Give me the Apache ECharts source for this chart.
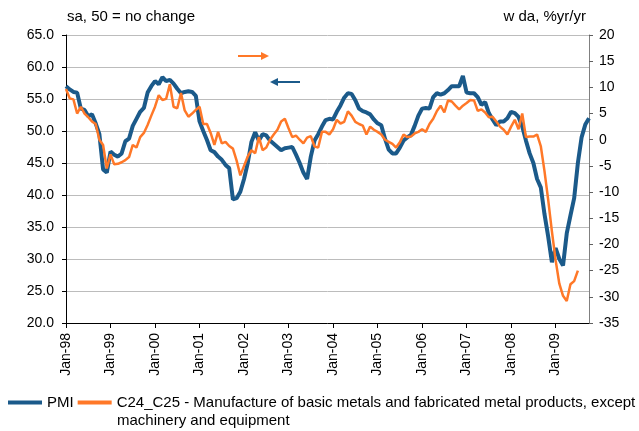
<!DOCTYPE html>
<html>
<head>
<meta charset="utf-8">
<script src="https://cdn.jsdelivr.net/npm/echarts@6/dist/echarts.min.js"></script>
<style>
html,body{margin:0;padding:0;background:#fff;}
#c{width:639px;height:431px;}
</style>
</head>
<body>
<div id="c"></div>
<script>
// Categories: monthly, Jan-98 .. Oct-09
const monthNames = ['Jan','Feb','Mar','Apr','May','Jun','Jul','Aug','Sep','Oct','Nov','Dec'];
const startYear = 1998, monthCount = 142;
const categories = [];
for (let i = 0; i < monthCount; i++) {
  const y = startYear + Math.floor(i / 12);
  categories.push(monthNames[i % 12] + '-' + String(y % 100).padStart(2, '0'));
}

// PMI (left axis, sa, 50 = no change)
const pmi = [
  57.0,56.5,56.1,56.0,53.5,53.3,52.3,52.6,51.2,49.5,44.0,43.5,
  46.8,46.3,46.0,46.5,48.4,48.8,50.8,51.9,53.0,53.6,56.0,57.0,
  57.8,57.3,58.4,57.8,58.0,57.4,56.6,55.9,56.1,56.2,56.1,55.5,
  51.5,50.0,48.6,47.0,46.7,46.0,45.5,44.7,44.2,39.3,39.5,40.5,
  42.5,45.0,48.3,49.8,48.5,49.5,49.3,48.5,48.0,47.5,47.0,47.3,
  47.4,47.5,46.3,45.0,43.5,42.5,46.0,48.5,49.5,50.7,51.7,51.9,
  51.8,53.0,54.0,55.2,55.9,55.8,54.8,53.5,53.1,52.9,52.6,51.8,
  51.2,50.9,48.8,47.1,46.5,46.5,47.4,48.5,49.0,49.4,50.8,52.4,
  53.5,53.6,53.5,55.3,55.9,55.7,55.9,56.4,57.0,57.0,57.0,58.6,
  56.0,55.9,55.9,55.3,54.1,54.5,52.8,51.8,50.9,51.5,51.5,52.0,
  53.0,52.8,52.2,50.7,48.5,46.5,45.0,42.5,41.2,37.0,33.5,29.5,
  31.7,30.0,29.0,34.0,36.8,39.5,45.0,49.0,51.0,52.0
];

// C24_C25 (right axis, wda, %yr/yr)
const c24c25 = [
  9.7,7.9,7.7,5.0,6.3,5.0,4.3,3.5,3.0,0.0,-1.0,-5.5,
  -2.8,-4.7,-4.6,-4.3,-3.9,-3.3,-1.0,-1.5,0.5,1.3,2.8,4.6,
  6.3,8.5,7.6,7.8,10.6,6.3,6.0,8.9,5.6,4.4,5.0,5.7,
  6.3,3.0,3.0,1.3,-1.0,1.5,-0.7,-0.4,-1.2,-1.7,-4.0,-6.8,
  -5.0,-3.2,-2.0,-2.6,0.5,-2.0,-1.5,0.0,1.0,1.9,3.5,4.0,
  2.2,0.5,0.8,0.0,-0.7,0.4,0.7,-1.3,-1.5,1.5,1.5,1.0,
  2.0,3.8,3.1,3.4,5.4,4.6,3.4,3.0,2.7,1.0,2.5,1.9,
  1.5,1.0,0.0,-0.4,-0.8,-1.5,-0.5,1.0,0.5,0.6,1.2,1.5,
  2.0,1.5,3.0,4.0,5.5,6.5,5.2,7.5,7.3,6.5,5.8,6.5,
  7.0,7.6,7.5,5.5,5.8,5.2,4.3,4.4,3.5,2.5,1.9,1.0,
  2.5,3.8,2.0,5.0,0.5,0.6,0.6,1.0,-1.2,-6.0,-11.5,-17.5,
  -23.0,-27.5,-29.8,-30.8,-27.6,-27.0,-25.0
];

const pmiName = 'PMI';
const metName = 'C24_C25 - Manufacture of basic metals and fabricated metal products, except machinery and equipment';
const metLegendLine1 = 'C24_C25 - Manufacture of basic metals and fabricated metal products, except';
const metLegendLine2 = 'machinery and equipment';
const leftTitle = 'sa, 50 = no change';
const rightTitle = 'w da, %yr/yr';

const FONT = '"Liberation Sans", Arial, sans-serif';
const BLUE = '#1b5a8a';
const ORANGE = '#ff7828';

const chart = echarts.init(document.getElementById('c'), null, {renderer: 'canvas'});
chart.setOption({
  animation: false,
  backgroundColor: '#fff',
  textStyle: {fontFamily: FONT},
  grid: {left: 66, right: 50, top: 35, bottom: 108, containLabel: false},
  legend: {
    left: 8, top: 395, itemWidth: 34, itemHeight: 4, itemGap: 4,
    padding: 0, icon: 'rect',
    textStyle: {fontSize: 15, color: '#000', fontFamily: FONT},
    formatter: function (n) { return n === metName ? metLegendLine1 : n; },
    data: [pmiName, metName]
  },
  xAxis: {
    type: 'category', data: categories, boundaryGap: false,
    axisLine: {onZero: false, lineStyle: {color: '#000', width: 1}},
    axisTick: {interval: function (i) { return i % 12 === 0; }, length: 5, lineStyle: {color: '#000'}},
    axisLabel: {interval: function (i) { return i % 12 === 0; }, rotate: 90, margin: 10,
      fontSize: 14, color: '#000', fontFamily: FONT},
    splitLine: {show: false}
  },
  yAxis: [
    {
      type: 'value', position: 'left', min: 20, max: 65, interval: 5,
      axisLine: {show: true, onZero: false, lineStyle: {color: '#000'}},
      axisTick: {show: true, length: 4, lineStyle: {color: '#000'}},
      axisLabel: {margin: 12, fontSize: 14, color: '#000', fontFamily: FONT,
        formatter: function (v) { return v.toFixed(1); }},
      splitLine: {show: true, lineStyle: {color: '#bcbcbc', width: 1}}
    },
    {
      type: 'value', position: 'right', min: -35, max: 20, interval: 5,
      axisLine: {show: true, onZero: false, lineStyle: {color: '#808080'}},
      axisTick: {show: true, length: 4, lineStyle: {color: '#606060'}},
      axisLabel: {margin: 10, fontSize: 14, color: '#000', fontFamily: FONT},
      splitLine: {show: false}
    }
  ],
  series: [
    {name: pmiName, type: 'line', data: pmi, yAxisIndex: 0, symbol: 'none',
      lineStyle: {color: BLUE, width: 4}, itemStyle: {color: BLUE}, z: 2},
    {name: metName, type: 'line', data: c24c25, yAxisIndex: 1, symbol: 'none',
      lineStyle: {color: ORANGE, width: 2.5}, itemStyle: {color: ORANGE}, z: 3}
  ],
  graphic: [
    {type: 'text', left: 67, top: 9, style: {text: leftTitle, fontSize: 15, fill: '#000', font: '15px ' + FONT}},
    {type: 'text', right: 53, top: 9, style: {text: rightTitle, fontSize: 15, fill: '#000', font: '15px ' + FONT}},
    {type: 'text', left: 117, top: 413, style: {text: metLegendLine2, fontSize: 15, fill: '#000', font: '15px ' + FONT}},
    // direction arrows
    {type: 'line', shape: {x1: 238, y1: 56, x2: 263, y2: 56}, style: {stroke: ORANGE, lineWidth: 2}},
    {type: 'polygon', shape: {points: [[261, 52], [269, 56], [261, 60]]}, style: {fill: ORANGE}},
    {type: 'line', shape: {x1: 276, y1: 82, x2: 300, y2: 82}, style: {stroke: BLUE, lineWidth: 2}},
    {type: 'polygon', shape: {points: [[278, 78], [270, 82], [278, 86]]}, style: {fill: BLUE}}
  ]
});
</script>
</body>
</html>
